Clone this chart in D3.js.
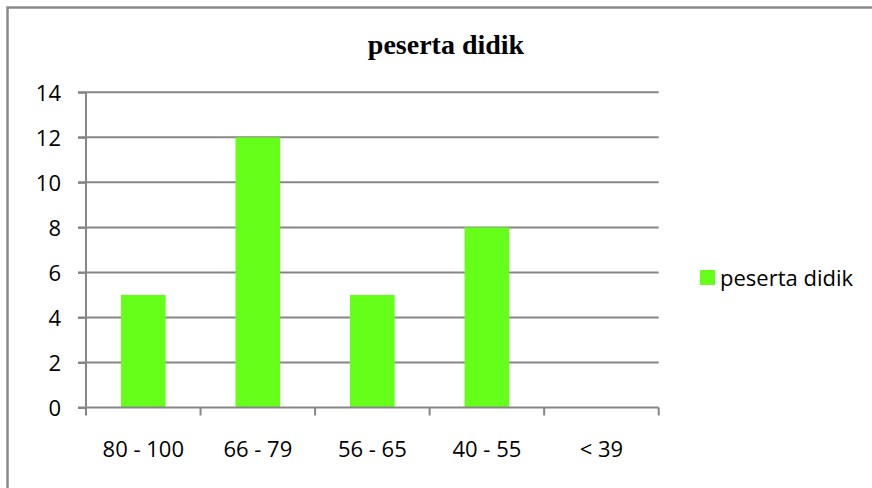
<!DOCTYPE html>
<html>
<head>
<meta charset="utf-8">
<script src="https://cdn.jsdelivr.net/npm/d3@7"></script>
<style>
  html, body { margin: 0; padding: 0; background: #fff; }
  svg { display: block; }
</style>
</head>
<body>
<script>
const categories = ["80 - 100", "66 - 79", "56 - 65", "40 - 55", "< 39"];
const values = [5, 12, 5, 8, 0];
const seriesName = "peserta didik";
const titleText = "peserta didik";
const yTicks = [0, 2, 4, 6, 8, 10, 12, 14];

const W = 872, H = 488;
const svg = d3.select("body").append("svg").attr("width", W).attr("height", H);

// outer frame (only left & top visible)
svg.append("rect")
  .attr("x", 7.5).attr("y", 7.5).attr("width", 1000).attr("height", 1000)
  .attr("fill", "none").attr("stroke", "#8a8a8a").attr("stroke-width", 2.5);

const plot = { left: 86, right: 658.7, top: 92.3, bottom: 407.5 };
const x = d3.scaleBand().domain(categories).range([plot.left, plot.right]).paddingInner(0.61).paddingOuter(0.305);
const xOuter = d3.scaleBand().domain(categories).range([plot.left, plot.right]);
const y = d3.scaleLinear().domain([0, 14]).range([plot.bottom, plot.top]);

const gridColor = "#868686";
const font = "'Open Sans', 'Noto Sans', sans-serif";

// gridlines
svg.append("g").selectAll("line").data(yTicks.filter(d => d > 0)).join("line")
  .attr("x1", plot.left - 8).attr("x2", plot.right)
  .attr("y1", d => y(d)).attr("y2", d => y(d))
  .attr("stroke", gridColor).attr("stroke-width", 2);

// bars
svg.append("g").selectAll("rect").data(values).join("rect")
  .attr("x", (d, i) => x(categories[i]))
  .attr("width", x.bandwidth())
  .attr("y", d => y(d))
  .attr("height", d => y(0) - y(d))
  .attr("fill", "#66ff1a");

// y axis
const yAxis = svg.append("g").attr("transform", `translate(${plot.left},0)`)
  .call(d3.axisLeft(y).tickValues(yTicks).tickSize(8).tickPadding(17).tickFormat(d3.format("d")));
yAxis.select(".domain").attr("stroke", gridColor).attr("stroke-width", 2).attr("d", `M0,${plot.top}V${plot.bottom}`);
yAxis.selectAll(".tick line").attr("stroke", gridColor).attr("stroke-width", 2);
yAxis.selectAll(".tick text").attr("font-family", font).attr("font-size", 22).attr("fill", "#000").attr("dy", "0.36em");

// x axis
const xAxis = svg.append("g").attr("transform", `translate(0,${plot.bottom})`)
  .call(d3.axisBottom(xOuter).tickSize(0).tickPadding(0));
xAxis.select(".domain").remove();
xAxis.selectAll(".tick text").attr("font-family", font).attr("font-size", 22).attr("fill", "#000")
  .attr("y", 49.5).attr("dy", 0);
// category boundary ticks
const bounds = categories.map(c => xOuter(c)).concat([plot.right]);
svg.append("g").selectAll("line").data(bounds).join("line")
  .attr("x1", d => d).attr("x2", d => d)
  .attr("y1", plot.bottom).attr("y2", plot.bottom + 8)
  .attr("stroke", gridColor).attr("stroke-width", 2);
svg.append("line").attr("x1", plot.left - 8).attr("x2", plot.right)
  .attr("y1", plot.bottom).attr("y2", plot.bottom)
  .attr("stroke", gridColor).attr("stroke-width", 2);

// title
svg.append("text").attr("x", 446).attr("y", 53.5).attr("text-anchor", "middle")
  .attr("font-family", "'Liberation Serif', 'Times New Roman', serif").attr("font-weight", "bold")
  .attr("font-size", 28).attr("fill", "#000").text(titleText);

// legend
const lg = svg.append("g");
lg.append("rect").attr("x", 700).attr("y", 270).attr("width", 15).attr("height", 15).attr("fill", "#66ff1a");
lg.append("text").attr("x", 720).attr("y", 286).attr("font-family", font).attr("font-size", 22)
  .attr("fill", "#000").text(seriesName);
</script>
</body>
</html>
